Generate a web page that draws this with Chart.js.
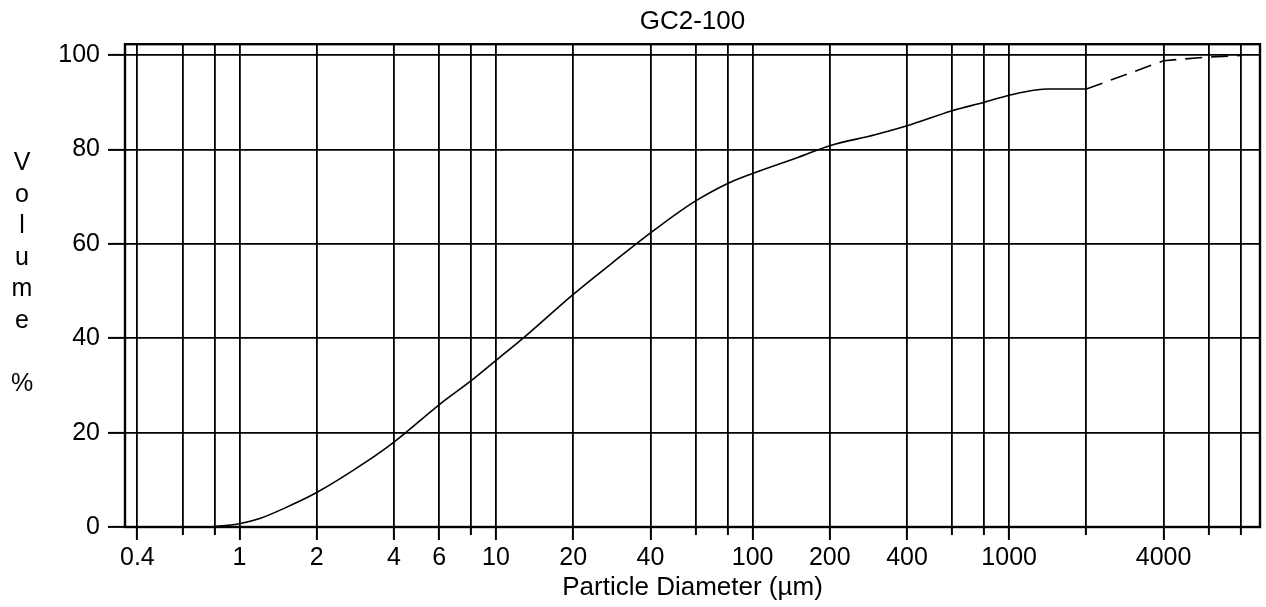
<!DOCTYPE html>
<html>
<head>
<meta charset="utf-8">
<script src="https://cdn.jsdelivr.net/npm/chart.js@4/dist/chart.umd.min.js"></script>
<style>
  html, body { margin: 0; padding: 0; background: #fff; }
  #wrap { width: 1266px; height: 607px; position: relative; }
</style>
</head>
<body>
<div id="wrap"><canvas id="c" width="1266" height="607"></canvas></div>
<script>
// ---- data ----
const chartTitle = 'GC2-100';
const xAxisTitle = 'Particle Diameter (\u00b5m)';
const yAxisLetters = ['V', 'o', 'l', 'u', 'm', 'e', '', '%'];

// measured part (solid line)
const diameters = [0.75, 0.8, 0.9, 1, 1.2, 1.5, 2, 3, 4, 6, 8, 10, 13, 20, 30, 40, 50, 60, 80, 100, 150, 200, 300, 400, 600, 800, 1000, 1200, 1400, 2000];
const volumePct = [0, 0.1, 0.35, 0.7, 1.8, 4.0, 7.3, 13.2, 18.0, 25.9, 31.0, 35.3, 40.4, 49.3, 57.0, 62.3, 66.2, 69.1, 72.8, 74.9, 78.3, 80.8, 83.1, 85.0, 88.2, 90.0, 91.5, 92.4, 92.8, 92.8];
// extrapolated part (dashed line)
const extDiameters = [2000, 4000, 6000, 8000];
const extVolumePct = [92.8, 98.8, 99.6, 99.9];

const xGridTicks = [0.4, 0.6, 0.8, 1, 2, 4, 6, 8, 10, 20, 40, 60, 80, 100, 200, 400, 600, 800, 1000, 2000, 4000, 6000, 8000];
const xLabelTicks = [0.4, 1, 2, 4, 6, 10, 20, 40, 100, 200, 400, 1000, 4000];
const yTicks = [0, 20, 40, 60, 80, 100];

const FONT = "'Liberation Sans', Arial, sans-serif";

const measured = diameters.map((d, i) => ({ x: d, y: volumePct[i] }));
const extrapolated = extDiameters.map((d, i) => ({ x: d, y: extVolumePct[i] }));

const frame = {
  id: 'frame',
  afterDraw(chart) {
    const { ctx, chartArea: a } = chart;
    ctx.save();
    ctx.strokeStyle = '#000';
    ctx.lineWidth = 2.4;
    ctx.strokeRect(a.left, a.top, a.right - a.left, a.bottom - a.top);
    // vertical stacked y-axis title
    ctx.fillStyle = '#000';
    ctx.font = '25px ' + FONT;
    ctx.textAlign = 'center';
    ctx.textBaseline = 'alphabetic';
    let y = 170;
    yAxisLetters.forEach(ch => { if (ch) ctx.fillText(ch, 22, y); y += 31.5; });
    ctx.restore();
  }
};

new Chart(document.getElementById('c'), {
  type: 'line',
  data: {
    datasets: [{
      data: measured,
      borderColor: '#000',
      borderWidth: 1.6,
      pointRadius: 0,
      fill: false,
      cubicInterpolationMode: 'monotone'
    }, {
      data: extrapolated,
      borderColor: '#000',
      borderWidth: 1.6,
      pointRadius: 0,
      fill: false,
      tension: 0,
      borderDash: [17, 9]
    }]
  },
  options: {
    responsive: false,
    animation: false,
    devicePixelRatio: 1,
    layout: { padding: { left: 0, right: 6, top: 0, bottom: 0 } },
    plugins: {
      legend: { display: false },
      tooltip: { enabled: false },
      title: {
        display: true,
        fullSize: false,
        text: chartTitle,
        color: '#000',
        font: { family: FONT, size: 26, weight: 'normal' },
        padding: { top: 6, bottom: 7 }
      }
    },
    scales: {
      x: {
        type: 'logarithmic',
        min: 0.358,
        max: 9500,
        afterBuildTicks: s => { s.ticks = xGridTicks.map(v => ({ value: v })); },
        afterFit: s => { s.height = 80; },
        border: { display: false },
        grid: {
          color: '#000',
          lineWidth: 1.8,
          drawTicks: true,
          tickLength: 13,
          tickColor: '#000',
          tickWidth: 2,
          tickBorderDash: c => (c.tick && xLabelTicks.includes(c.tick.value)) ? [] : [8, 100]
        },
        ticks: {
          autoSkip: false,
          maxRotation: 0,
          minRotation: 0,
          padding: 3,
          color: '#000',
          font: { family: FONT, size: 25 },
          callback: v => xLabelTicks.includes(v) ? String(v) : ''
        },
        title: {
          display: true,
          text: xAxisTitle,
          color: '#000',
          font: { family: FONT, size: 26 },
          padding: { top: 0, bottom: 4 }
        }
      },
      y: {
        min: 0,
        max: 102.3,
        afterBuildTicks: s => { s.ticks = yTicks.map(v => ({ value: v })); },
        afterFit: s => { s.width = 125; },
        border: { display: false },
        grid: {
          color: '#000',
          lineWidth: 1.8,
          drawTicks: true,
          tickLength: 17,
          tickColor: '#000',
          tickWidth: 2
        },
        ticks: {
          padding: 8,
          color: '#000',
          font: { family: FONT, size: 25 }
        }
      }
    }
  },
  plugins: [frame]
});
</script>
</body>
</html>
